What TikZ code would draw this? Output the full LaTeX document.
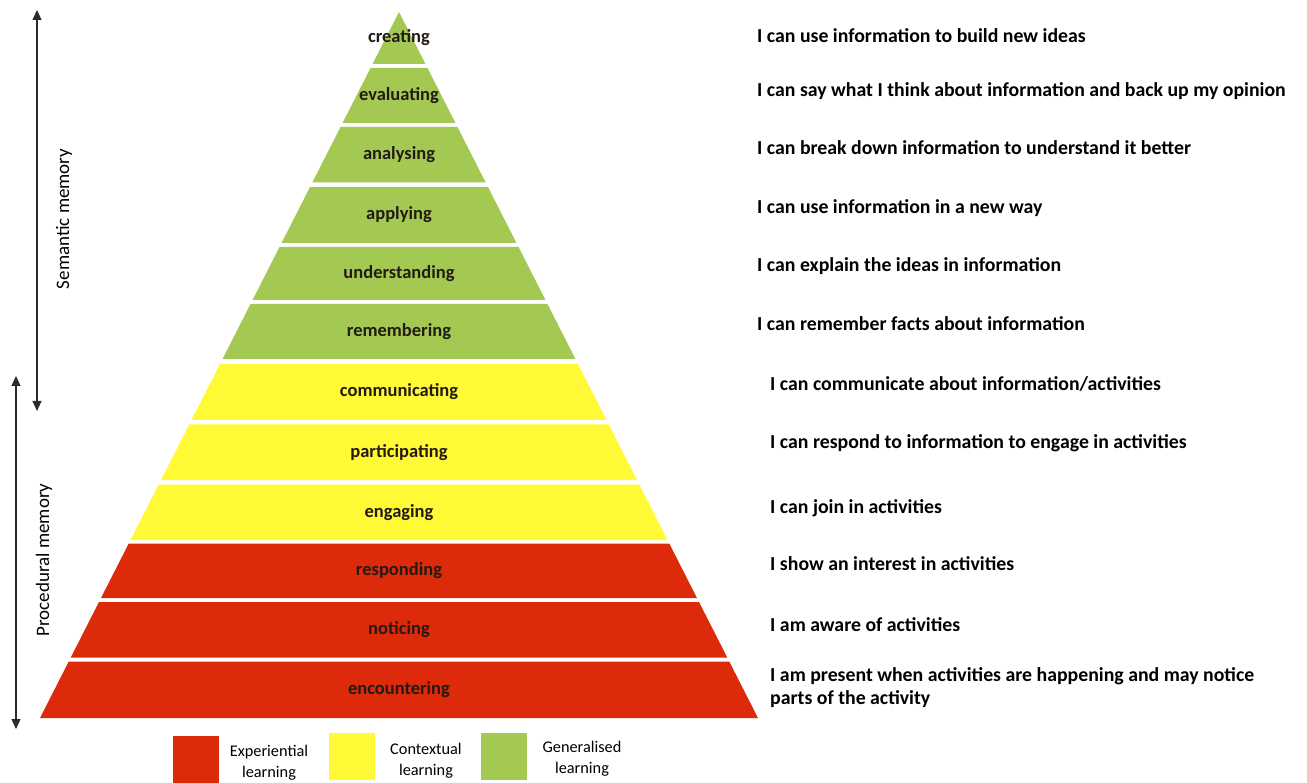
\documentclass[tikz,border=0pt]{standalone}
\usepackage{fontspec}
\setmainfont{Carlito}
\usetikzlibrary{arrows.meta,positioning,calc}
\definecolor{ExpRed}{HTML}{DC2A0B}
\definecolor{CtxYellow}{HTML}{FFFA35}
\definecolor{GenGreen}{HTML}{A3C953}
\definecolor{TierInk}{HTML}{241A14}
\definecolor{ArrowGrey}{HTML}{2B2B2B}

\begin{document}
\begin{tikzpicture}[
  x=1pt, y=-1pt,
  tier/.style={font=\fontsize{18.5}{22}\selectfont\bfseries, text=TierInk},
  cando/.style={anchor=west, font=\fontsize{19.8}{23}\selectfont\bfseries, align=left, inner sep=0pt},
  memory/.style={{Triangle[length=10pt,width=9pt]}-{Triangle[length=10pt,width=9pt]}, line width=1.1pt, draw=ArrowGrey},
  sidelabel/.style={rotate=90, font=\fontsize{19}{22}\selectfont},
  swatch/.style={anchor=north west, minimum width=46pt, minimum height=47pt, inner sep=0pt},
  keytext/.style={font=\fontsize{16.3}{21}\selectfont, align=center}
]
\useasboundingbox (0,0) rectangle (1307,783);
% pyramid, top tier first: name/colour/top/bottom
\foreach \name/\col/\yt/\yb [count=\i] in {creating/GenGreen/12/64,
    evaluating/GenGreen/68/123, analysing/GenGreen/127/182.5,
    applying/GenGreen/187/243, understanding/GenGreen/247/300,
    remembering/GenGreen/304/359, communicating/CtxYellow/364/420,
    participating/CtxYellow/424.5/480, engaging/CtxYellow/484.5/540,
    responding/ExpRed/543.5/598, noticing/ExpRed/602/657.5,
    encountering/ExpRed/661.5/718}{
  \fill[\col] ({399-0.5085*(\yt-12)},\yt) -- ({399+0.5085*(\yt-12)},\yt)
    -- ({399+0.5085*(\yb-12)},\yb) -- ({399-0.5085*(\yb-12)},\yb) -- cycle;
  \node[tier] (tier\i) at (399,{(\yt+\yb)/2}) {\name};
}

% statements
\node[cando] (can1) at (757,36) {I can use information to build new ideas};
\node[cando] (can2) at (757,91) {I can say what I think about information and back up my opinion};
\node[cando] (can3) at (757,148) {I can break down information to understand it better};
\node[cando] (can4) at (757,208) {I can use information in a new way};
\node[cando] (can5) at (757,266) {I can explain the ideas in information};
\node[cando] (can6) at (757,324) {I can remember facts about information};
\node[cando] (can7) at (770,384) {I can communicate about information/activities};
\node[cando] (can8) at (770,443) {I can respond to information to engage in activities};
\node[cando] (can9) at (770,508) {I can join in activities};
\node[cando] (can10) at (770,564) {I show an interest in activities};
\node[cando] (can11) at (770,625) {I am aware of activities};
\node[cando] (can12) at (770,688) {I am present when activities are happening and may notice\\parts of the activity};

% memory arrows
\coordinate (semtop) at (37,10);
\coordinate (sembot) at (37,411);
\draw[memory] (semtop) -- (sembot);
\node[sidelabel] (semantic) at (64,219) {Semantic memory};
\coordinate (proctop) at (16,376);
\coordinate (procbot) at (16,729);
\draw[memory] (proctop) -- (procbot);
\node[sidelabel] (procedural) at (44,560) {Procedural memory};

% key
\node[swatch, fill=ExpRed] (keyexp) at (173,736) {};
\node[keytext] (keyexptxt) at (269,763) {Experiential\\learning};
\node[swatch, fill=CtxYellow] (keyctx) at (329,733) {};
\node[keytext] (keyctxtxt) at (426,761) {Contextual\\learning};
\node[swatch, fill=GenGreen] (keygen) at (481,733) {};
\node[keytext] (keygentxt) at (582,759) {Generalised\\learning};
\end{tikzpicture}
\end{document}
